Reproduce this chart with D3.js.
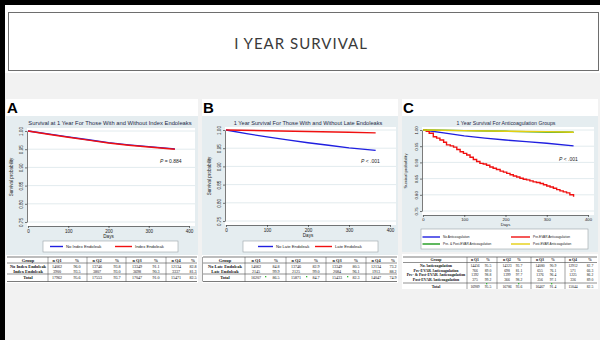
<!DOCTYPE html>
<html><head><meta charset="utf-8">
<script src="https://cdn.jsdelivr.net/npm/d3@7"></script>
<style>body{margin:0;background:#fff}svg{display:block}</style>
</head><body>
<svg id="c" width="600" height="340"></svg>
<script>
// ---------------- DATA ----------------
const slideTitle = "I YEAR SURVIVAL";
const dayTicks = [0, 100, 200, 300, 400];
const survTicks = [0.75, 0.80, 0.85, 0.90, 0.95, 1.00];

// Panel A
const aTitle = "Survival at 1 Year For Those With and Without Index Endoleaks";
const aNoIdxDays = [0, 50, 100, 150, 200, 250, 300, 365];
const aNoIdxSurv = [1.000, 0.992, 0.984, 0.976, 0.968, 0.962, 0.957, 0.951];
const aIdxDays = [0, 50, 100, 150, 200, 250, 300, 365];
const aIdxSurv = [1.000, 0.991, 0.983, 0.975, 0.967, 0.961, 0.956, 0.950];
const aLegend = ["No Index Endoleak", "Index Endoleak"];
const aP = "0.884";

// Panel B
const bTitle = "1 Year Survival For Those With and Without Late Endoleaks";
const bNoLateDays = [0, 50, 100, 150, 200, 250, 300, 365];
const bNoLateSurv = [1.000, 0.990, 0.981, 0.973, 0.965, 0.958, 0.951, 0.944];
const bLateDays = [0, 100, 200, 300, 365];
const bLateSurv = [1.000, 0.998, 0.996, 0.994, 0.992];
const bLegend = ["No Late Endoleak", "Late Endoleak"];
const bP = ".001";

// Panel C
const cTitle = "1 Year Survival For Anticoagulation Groups";
const cNoAcDays = [0, 50, 100, 150, 200, 250, 300, 365];
const cNoAcSurv = [1.000, 0.991, 0.982, 0.975, 0.969, 0.964, 0.959, 0.951];
const cPreDays = [0, 8, 15, 25, 33, 41, 50, 57, 66, 74, 82, 90, 98, 106, 114, 122, 130, 138, 146, 154, 162, 170, 178, 187, 195, 203, 211, 219, 227, 235, 243, 251, 259, 267, 275, 284, 292, 300, 308, 316, 324, 332, 340, 348, 356, 365];
const cPreSurv = [1.000, 0.996, 0.990, 0.979, 0.975, 0.969, 0.962, 0.954, 0.951, 0.947, 0.940, 0.933, 0.928, 0.923, 0.916, 0.909, 0.903, 0.897, 0.895, 0.891, 0.886, 0.882, 0.878, 0.873, 0.870, 0.866, 0.862, 0.858, 0.855, 0.851, 0.848, 0.846, 0.843, 0.840, 0.838, 0.835, 0.831, 0.827, 0.824, 0.820, 0.816, 0.812, 0.809, 0.806, 0.800, 0.794];
const cPrePostDays = [0, 100, 200, 300, 365];
const cPrePostSurv = [1.000, 0.998, 0.996, 0.994, 0.993];
const cPostDays = [0, 100, 200, 300, 365];
const cPostSurv = [1.000, 0.998, 0.996, 0.995, 0.993];
const cLegend = ["No Anticoagulation", "Pre-EVAR Anticoagulation", "Pre- & Post-EVAR Anticoagulation", "Post-EVAR Anticoagulation"];
const cP = ".001";

// Tables
const tableHeader = ["Group", "n Q1", "%", "n Q2", "%", "n Q3", "%", "n Q4", "%"];
const tA_groups = ["No Index Endoleak", "Index Endoleak", "Total"];
const tA_n = [[14062, 13746, 13349, 12134], [3900, 3807, 3698, 3337], [17962, 17553, 17047, 15471]];
const tA_pct = [["96.0", "93.8", "91.1", "82.8"], ["93.5", "93.0", "90.3", "81.3"], ["95.6", "93.7", "91.0", "82.5"]];
const tB_groups = ["No Late Endoleak", "Late Endoleak", "Total"];
const tB_n = [[14062, 13746, 13349, 12134], [2145, 2125, 2084, 1913], [16207, 15871, 15433, 14047]];
const tB_pct = [["84.8", "82.9", "80.5", "73.2"], ["99.9", "99.0", "96.1", "88.2"], ["86.5", "84.7", "82.3", "74.9"]];
const tC_groups = ["No Anticoagulation", "Pre-EVAR Anticoagulation", "Pre- & Post-EVAR Anticoagulation", "Post-EVAR Anticoagulation", "Total"];
const tC_n = [[14456, 14323, 14080, 12912], [766, 698, 655, 571], [1392, 1399, 1376, 1225], [375, 366, 356, 336], [16989, 16786, 16467, 15044]];
const tC_pct = [["95.5", "93.7", "90.9", "82.7"], ["89.0", "81.1", "76.1", "66.3"], ["98.8", "97.7", "96.4", "86.2"], ["99.2", "98.2", "97.1", "89.0"], ["95.5", "93.6", "91.4", "82.5"]];

// ---------------- DRAW ----------------
const svg = d3.select("#c");
const SANS = "'Liberation Sans', Arial, sans-serif";
const SERIF = "'Liberation Serif', 'Times New Roman', serif";
const COL = {blue: "#1f1fe0", red: "#f01010", green: "#1a9a1a", yellow: "#e6cf10"};

svg.append("rect").attr("width", 600).attr("height", 340).attr("fill", "#ffffff");
svg.append("rect").attr("x", 5).attr("y", 73).attr("width", 595).attr("height", 267).attr("fill", "#f2f2f2");
svg.append("rect").attr("x", 0).attr("y", 0).attr("width", 600).attr("height", 5).attr("fill", "#000");
svg.append("rect").attr("x", 0).attr("y", 0).attr("width", 5).attr("height", 340).attr("fill", "#000");
svg.append("rect").attr("x", 8.5).attr("y", 12.5).attr("width", 590).attr("height", 58)
  .attr("fill", "#fff").attr("stroke", "#6e6e6e").attr("stroke-width", 1);
svg.append("text").attr("x", 301).attr("y", 48.5).attr("text-anchor", "middle")
  .attr("font-family", "Lato, 'Open Sans', sans-serif").attr("font-size", 15).attr("letter-spacing", 1)
  .attr("fill", "#3a3a3a").text(slideTitle);

function zip(a, b) { return a.map((d, i) => [d, b[i]]); }

function drawPanel(cfg) {
  const g = svg.append("g");
  g.append("rect").attr("x", cfg.x0).attr("y", 99).attr("width", cfg.x1 - cfg.x0).attr("height", 17).attr("fill", "#fff");
  g.append("text").attr("x", cfg.x0 + 1).attr("y", 113).attr("font-family", SANS).attr("font-weight", "bold")
    .attr("font-size", 15).attr("fill", "#000").text(cfg.letter);
  g.append("rect").attr("x", cfg.x0).attr("y", 116).attr("width", cfg.x1 - cfg.x0).attr("height", cfg.regionBottom - 116).attr("fill", "#e5edf0");

  const x = d3.scaleLinear().domain([0, 400]).range(cfg.xr);
  const y = d3.scaleLinear().domain([0.75, 1]).range(cfg.yr);
  const pl = x(0) - 1, pr = x(400) + 6, pt = y(1) - 3, pb = y(0.75) + 4;

  g.append("rect").attr("x", pl).attr("y", pt).attr("width", pr - pl).attr("height", pb - pt).attr("fill", "#ffffff");
  g.selectAll(".grid").data(survTicks).enter().append("line")
    .attr("x1", pl).attr("x2", pr).attr("y1", d => y(d)).attr("y2", d => y(d))
    .attr("stroke", "#dbe6ea").attr("stroke-width", 0.8);

  g.append("text").attr("x", cfg.titleX).attr("y", 125).attr("text-anchor", "middle")
    .attr("font-family", SANS).attr("font-size", cfg.titleFs).attr("fill", "#1e2a48").text(cfg.title);

  // y axis
  const ya = g.append("g").attr("transform", `translate(${pl},0)`)
    .call(d3.axisLeft(y).tickValues(survTicks).tickSize(2).tickSizeOuter(0).tickFormat(d3.format(".2f")));
  ya.select(".domain").attr("stroke", "#222").attr("stroke-width", 0.6);
  ya.selectAll(".tick line").attr("stroke", "#222").attr("stroke-width", 0.6);
  ya.selectAll(".tick text").attr("transform", "rotate(-90)").attr("x", 0).attr("y", -4).attr("dy", 0)
    .attr("text-anchor", "middle").attr("font-family", SANS).attr("font-size", cfg.tickFs).attr("fill", "#222");
  g.append("text").attr("transform", `translate(${cfg.yTitleX},${(pt + pb) / 2}) rotate(-90)`)
    .attr("text-anchor", "middle").attr("font-family", SANS).attr("font-size", cfg.tickFs).attr("fill", "#222")
    .text("Survival probability");

  // x axis
  const xa = g.append("g").attr("transform", `translate(0,${pb})`)
    .call(d3.axisBottom(x).tickValues(dayTicks).tickSize(2).tickSizeOuter(0).tickPadding(1.5));
  xa.select(".domain").attr("stroke", "#222").attr("stroke-width", 0.6);
  xa.selectAll(".tick line").attr("stroke", "#222").attr("stroke-width", 0.6);
  xa.selectAll(".tick text").attr("font-family", SANS).attr("font-size", cfg.tickFs).attr("fill", "#222");
  g.append("text").attr("x", x(200)).attr("y", pb + cfg.daysDy).attr("text-anchor", "middle")
    .attr("font-family", SANS).attr("font-size", cfg.tickFs).attr("fill", "#222").text("Days");

  // curves
  cfg.series.forEach(s => {
    const line = d3.line().x(d => x(d[0])).y(d => y(d[1])).curve(s.step ? d3.curveStepAfter : d3.curveLinear);
    g.append("path").datum(zip(s.days, s.surv)).attr("d", line)
      .attr("fill", "none").attr("stroke", s.color).attr("stroke-width", 1.4);
  });

  // p value
  const pt2 = g.append("text").attr("x", cfg.pX).attr("y", cfg.pY).attr("font-family", SANS)
    .attr("font-size", cfg.pFs).attr("fill", "#222");
  pt2.append("tspan").attr("font-style", "italic").text("P");
  pt2.append("tspan").text(cfg.pText);

  // legend
  const L = cfg.legend;
  g.append("rect").attr("x", L.x).attr("y", L.y).attr("width", L.w).attr("height", L.h)
    .attr("fill", "#fff").attr("stroke", "#9aa3a8").attr("stroke-width", 0.6);
  L.items.forEach(it => {
    g.append("line").attr("x1", it.lx).attr("x2", it.lx + it.lw).attr("y1", it.y).attr("y2", it.y)
      .attr("stroke", it.color).attr("stroke-width", 1.4);
    g.append("text").attr("x", it.lx + it.lw + 3).attr("y", it.y).attr("dy", "0.35em")
      .attr("font-family", SANS).attr("font-size", L.fs).attr("fill", "#222").text(it.label);
  });
}

function drawTable(t) {
  const g = svg.append("g");
  const clipId = "clip" + t.id;
  g.append("clipPath").attr("id", clipId).append("rect").attr("x", t.x0).attr("y", t.y0).attr("width", t.x1 - t.x0).attr("height", t.clipB - t.y0);
  const gg = g.append("g").attr("clip-path", `url(#${clipId})`);
  gg.append("rect").attr("x", t.x0).attr("y", t.y0).attr("width", t.x1 - t.x0).attr("height", t.clipB - t.y0).attr("fill", "#fff");
  const hl = (yy, w) => gg.append("line").attr("x1", t.x0 + 1).attr("x2", t.x1 - 1).attr("y1", yy).attr("y2", yy).attr("stroke", "#222").attr("stroke-width", w);
  hl(t.top, 0.6); hl(t.headLine, 0.5); hl(t.totLine, 0.5); hl(t.bottom, 0.6);
  t.dividers.forEach(dx => gg.append("line").attr("x1", dx).attr("x2", dx).attr("y1", t.top).attr("y2", t.bottom).attr("stroke", "#444").attr("stroke-width", 0.5));
  // header
  const colXs = [t.groupX].concat(...t.cols);
  tableHeader.forEach((h, i) => gg.append("text").attr("x", colXs[i]).attr("y", t.headY).attr("dy", "0.35em")
    .attr("text-anchor", "middle").attr("font-family", SERIF).attr("font-weight", "bold").attr("font-size", t.fs).attr("fill", "#111").text(h));
  t.groups.forEach((grp, r) => {
    const yy = t.rowYs[r];
    gg.append("text").attr("x", t.groupX).attr("y", yy).attr("dy", "0.35em").attr("text-anchor", "middle")
      .attr("font-family", SERIF).attr("font-weight", "bold").attr("font-size", t.fs).attr("fill", "#111").text(grp);
    t.n[r].forEach((v, c) => {
      gg.append("text").attr("x", t.cols[c][0]).attr("y", yy).attr("dy", "0.35em").attr("text-anchor", "middle")
        .attr("font-family", SERIF).attr("font-size", t.nfs).attr("fill", "#111").text(v);
      gg.append("text").attr("x", t.cols[c][1]).attr("y", yy).attr("dy", "0.35em").attr("text-anchor", "middle")
        .attr("font-family", SERIF).attr("font-size", t.nfs).attr("fill", "#111").text(t.pct[r][c]);
    });
  });
  (t.marks || []).forEach(m => gg.append("rect").attr("x", m[0]).attr("y", m[1]).attr("width", 1.3).attr("height", 1.3).attr("fill", "#33bb33"));
  if (t.leftBorder) gg.append("line").attr("x1", t.x0 + 0.5).attr("x2", t.x0 + 0.5).attr("y1", t.top).attr("y2", t.bottom).attr("stroke", "#444").attr("stroke-width", 0.5);
}

// Panel A
drawPanel({
  x0: 6, x1: 198, letter: "A", title: aTitle, titleX: 110, titleFs: 5.8, xr: [28, 189], yr: [222, 131],
  regionBottom: 255, yTitleX: 13, tickFs: 4.6, daysDy: 12, pX: 160, pY: 163, pFs: 5, pText: " = " + aP,
  series: [{days: aNoIdxDays, surv: aNoIdxSurv, color: COL.blue}, {days: aIdxDays, surv: aIdxSurv, color: COL.red}],
  legend: {x: 43, y: 241, w: 135, h: 11, fs: 4.2, items: [
    {lx: 50, lw: 13, y: 246.5, color: COL.blue, label: aLegend[0]},
    {lx: 115, lw: 17, y: 246.5, color: COL.red, label: aLegend[1]}]}
});
// Panel B
drawPanel({
  x0: 202, x1: 398, letter: "B", title: bTitle, titleX: 308, titleFs: 5.6, xr: [226, 390], yr: [221, 130],
  regionBottom: 255, yTitleX: 211, tickFs: 4.6, daysDy: 12, pX: 361, pY: 163, pFs: 5, pText: " < " + bP,
  series: [{days: bNoLateDays, surv: bNoLateSurv, color: COL.blue}, {days: bLateDays, surv: bLateSurv, color: COL.red}],
  legend: {x: 243, y: 241, w: 135, h: 11, fs: 4.2, items: [
    {lx: 258, lw: 15, y: 246.5, color: COL.blue, label: bLegend[0]},
    {lx: 315, lw: 17, y: 246.5, color: COL.red, label: bLegend[1]}]}
});
// Panel C
drawPanel({
  x0: 402, x1: 598, letter: "C", title: cTitle, titleX: 506, titleFs: 5.2, xr: [423, 588], yr: [211, 130],
  regionBottom: 252, yTitleX: 407, tickFs: 4.2, daysDy: 11, pX: 559, pY: 161, pFs: 5, pText: " < " + cP,
  series: [{days: cNoAcDays, surv: cNoAcSurv, color: COL.blue},
           {days: cPreDays, surv: cPreSurv, color: COL.red, step: true},
           {days: cPrePostDays, surv: cPrePostSurv, color: COL.green},
           {days: cPostDays, surv: cPostSurv, color: COL.yellow}],
  legend: {x: 421, y: 229, w: 167, h: 20, fs: 3.2, items: [
    {lx: 422.5, lw: 17.5, y: 237, color: COL.blue, label: cLegend[0]},
    {lx: 511, lw: 19, y: 237, color: COL.red, label: cLegend[1]},
    {lx: 422.5, lw: 17.5, y: 244, color: COL.green, label: cLegend[2]},
    {lx: 511, lw: 19, y: 244, color: COL.yellow, label: cLegend[3]}]}
});

// Tables
drawTable({
  id: "A", x0: 6, x1: 198, y0: 255, clipB: 283, top: 257, headLine: 263, totLine: 274, bottom: 281.5,
  headY: 260.2, rowYs: [266.5, 271.2, 277.8], groupX: 28, fs: 4.4, nfs: 4.1,
  cols: [[57, 77], [97, 117], [137, 156], [176, 193]], dividers: [48, 87, 126, 166],
  groups: tA_groups, n: tA_n, pct: tA_pct
});
drawTable({
  id: "B", x0: 202, x1: 398, y0: 255, clipB: 283, top: 257, headLine: 263, totLine: 274, bottom: 281.5,
  headY: 260.2, rowYs: [266.5, 271.2, 277.8], groupX: 225, fs: 4.4, nfs: 4.1,
  cols: [[256, 276], [296, 316], [337, 356], [376, 393]], dividers: [245, 286, 326, 366],
  groups: tB_groups, n: tB_n, pct: tB_pct, leftBorder: true,
  marks: [[265, 276], [306, 276], [347, 276]]
});
drawTable({
  id: "C", x0: 402, x1: 598, y0: 254, clipB: 289, top: 257, headLine: 262.5, totLine: 283, bottom: 292,
  headY: 260, rowYs: [265.6, 270.3, 275, 279.7, 286.5], groupX: 436, fs: 3.9, nfs: 3.7,
  cols: [[475, 488], [507, 519], [540, 553], [573, 590]], dividers: [467, 497, 531, 565],
  groups: tC_groups, n: tC_n, pct: tC_pct,
  marks: [[486, 283], [518, 283], [551, 283]]
});
</script>
</body></html>
